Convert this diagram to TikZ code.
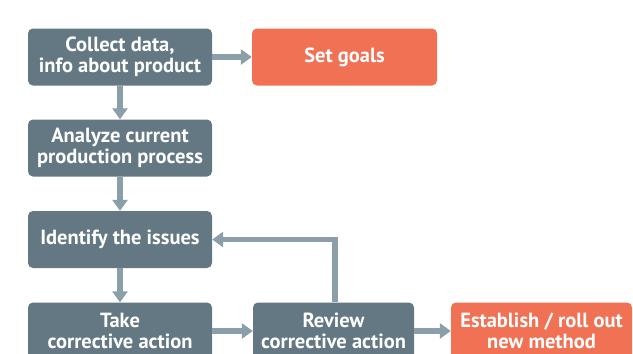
\documentclass[tikz,border=0pt]{standalone}
\usepackage{fontspec}
\setmainfont{PT Sans}
\usetikzlibrary{arrows.meta}
\definecolor{boxgray}{HTML}{637882}
\definecolor{boxorange}{HTML}{F07153}
\definecolor{arrowgray}{HTML}{8A9FA8}
\tikzset{
  stepbox/.style={rectangle, rounded corners=5pt, fill=boxgray, text=white,
    font=\fontsize{20.5}{21}\selectfont\bfseries, align=center, inner sep=0pt,
    minimum height=57pt},
  goalbox/.style={stepbox, fill=boxorange},
  flow/.style={draw=arrowgray, line width=5.5pt,
    -{Triangle[width=15pt,length=11pt]}}
}
\begin{document}
\begin{tikzpicture}[x=1pt,y=-1pt]
\path[use as bounding box, clip] (0,0) rectangle (633,354);
\fill[white] (0,0) rectangle (633,354);
\node[stepbox, minimum width=184pt] (collect) at (120,57) {Collect data,\\info about product};
\node[goalbox, minimum width=185pt] (goals) at (344.5,57) {Set goals};
\node[stepbox, minimum width=184pt] (analyze) at (120,148) {Analyze current\\production process};
\node[stepbox, minimum width=184pt] (identify) at (120,239.5) {Identify the issues};
\node[stepbox, minimum width=184pt] (take) at (120,331) {Take\\corrective action};
\node[stepbox, minimum width=161pt] (review) at (333.5,331) {Review\\corrective action};
\node[goalbox, minimum width=181pt] (establish) at (541.5,331) {Establish / roll out\\new method};
\draw[flow] (collect.east) -- (goals.west);
\draw[flow] (collect.south) -- (analyze.north);
\draw[flow] (analyze.south) -- (identify.north);
\draw[flow] (identify.south) -- (take.north);
\draw[flow] (take.east) -- (review.west);
\draw[flow] (review.east) -- (establish.west);
\draw[flow] ([xshift=1.5pt]review.north) |- (identify.east);
\end{tikzpicture}
\end{document}
